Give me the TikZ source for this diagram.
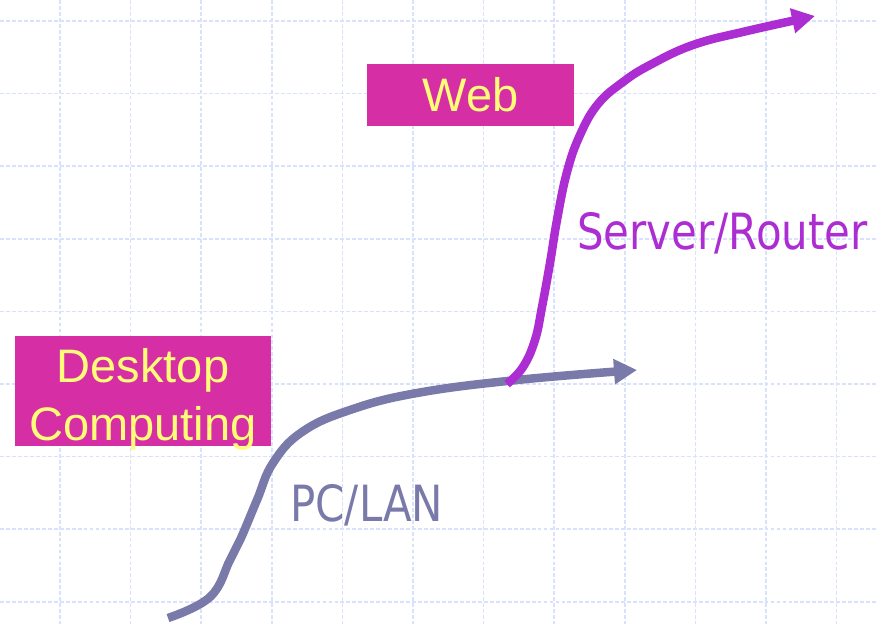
\documentclass[tikz,border=0pt]{standalone}
\usepackage{fontspec}
\setmainfont{Liberation Sans}
\newfontfamily\curvefont{DejaVu Sans}[FakeStretch=0.84]
\usetikzlibrary{arrows.meta}

\definecolor{gridblue}{RGB}{216,226,252}
\definecolor{boxmagenta}{RGB}{214,46,165}
\definecolor{boxyellow}{RGB}{255,252,120}
\definecolor{pcgray}{RGB}{122,122,170}
\definecolor{webpurple}{RGB}{172,45,210}

\begin{document}
\begin{tikzpicture}[
  x=0.02cm, y=-0.02cm,
  gridline/.style={gridblue, line width=1pt, dash pattern=on 2.2pt off 1.2pt},
  era/.style={fill=boxmagenta, inner sep=0pt},
  eratext/.style={text=boxyellow, align=center, inner sep=0pt,
    font=\fontsize{26.75}{33}\selectfont},
  curvelabel/.style={anchor=base west, inner sep=0pt,
    font=\curvefont\fontsize{28.4}{34}\selectfont},
  growth/.style={line width=0.17cm, -{Triangle[length=0.46cm, width=0.48cm]}}
]
\useasboundingbox[fill=white] (0,0) rectangle (876,624);

% dotted background grid
\foreach \k in {0,...,11}
  \draw[gridline] (60+70.6*\k,0) -- (60+70.6*\k,624);
\foreach \k in {0,...,8}
  \draw[gridline] (0,21+72.6*\k) -- (876,21+72.6*\k);

% era boxes
\node[era, minimum width=4.14cm, minimum height=1.24cm] (web) at (470.5,95)
  {\raisebox{-0.06cm}{\textcolor{boxyellow}{\fontsize{26.75}{33}\selectfont Web}}};
\node[era, minimum width=5.12cm, minimum height=2.2cm] (desktop) at (143,391) {};
\node[eratext] (desktoptext) at (143,399) {Desktop\\Computing};

% growth curves
\coordinate (pcstart) at (168,618);
\coordinate (pcend) at (637,370);
\draw[growth, pcgray] plot[smooth, tension=0.7] coordinates {(pcstart) (210,597)
  (230,560) (241,538) (257,500) (273,463) (302,432) (350,410) (417,393)
  (517,380) (pcend)};

\coordinate (webstart) at (507,384);
\coordinate (webend) at (815,16);
\draw[growth, webpurple] plot[smooth, tension=0.7] coordinates {(webstart)
  (523,367) (535,340) (542,307) (550,263) (557,220) (567,172) (580,135)
  (598,104) (623,82) (650,65) (693,45) (747,31) (webend)};

% curve labels
\node[curvelabel, text=pcgray] (pclabel) at (290,522) {PC/LAN};
\node[curvelabel, text=webpurple] (weblabel) at (577,250) {Server/Router};
\end{tikzpicture}
\end{document}
